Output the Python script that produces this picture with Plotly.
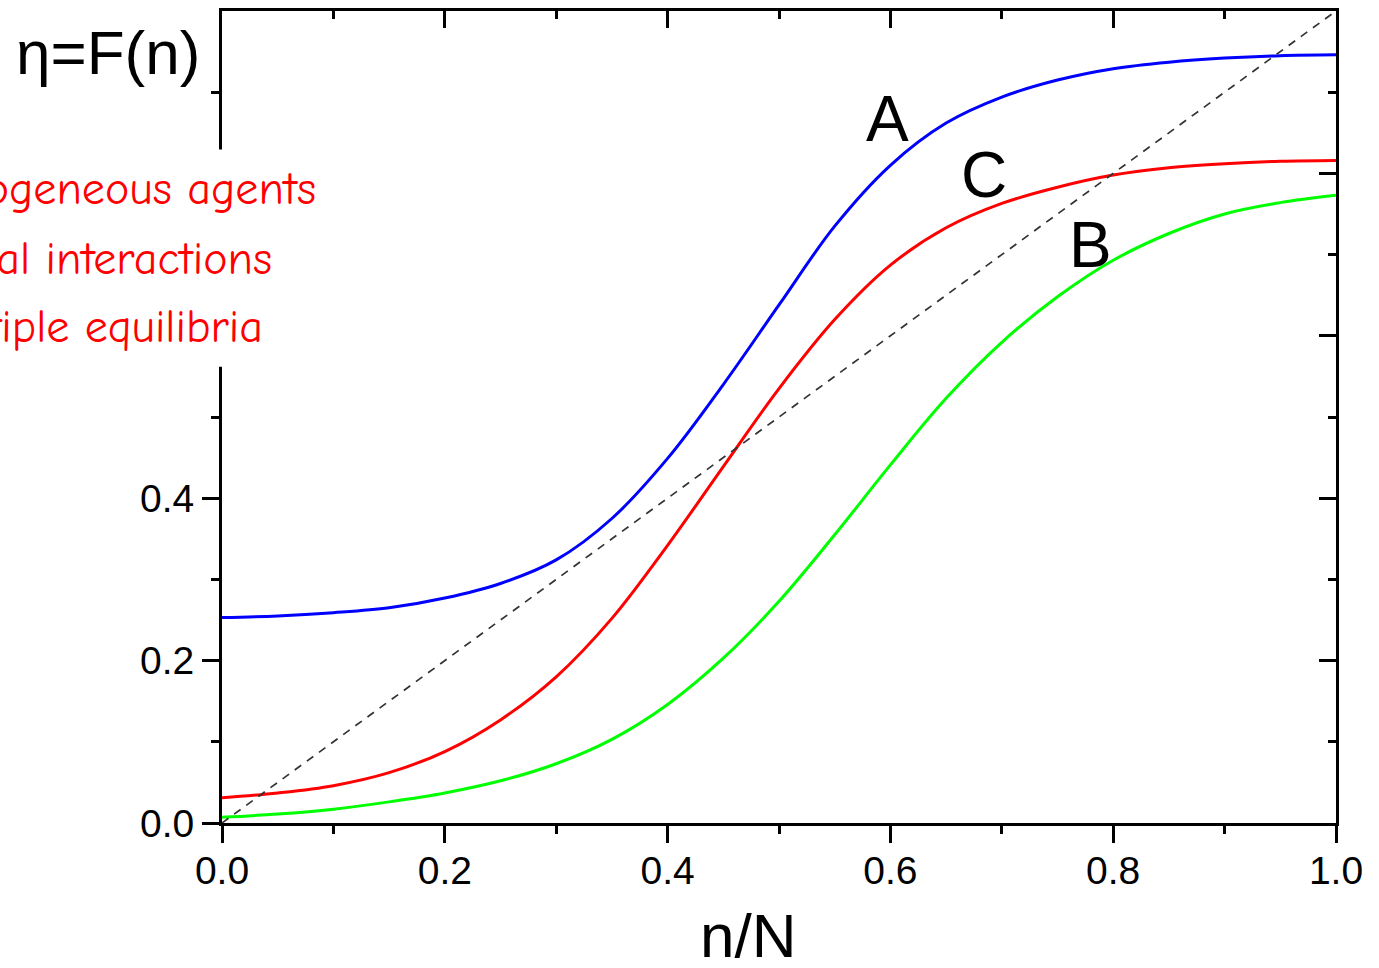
import plotly.graph_objects as go

# ---- data ----
n_frac = [0.00, 0.05, 0.10, 0.15, 0.20, 0.25, 0.30, 0.35, 0.40, 0.45, 0.50,
          0.55, 0.60, 0.65, 0.70, 0.75, 0.80, 0.85, 0.90, 0.95, 1.00]

eta_A = [0.253, 0.255, 0.259, 0.265, 0.277, 0.295, 0.324, 0.375, 0.449, 0.540, 0.638,
         0.735, 0.810, 0.862, 0.894, 0.915, 0.929, 0.937, 0.942, 0.945, 0.946]

eta_C = [0.031, 0.037, 0.046, 0.062, 0.088, 0.127, 0.180, 0.252, 0.342, 0.439, 0.535,
         0.620, 0.687, 0.733, 0.763, 0.783, 0.798, 0.807, 0.812, 0.815, 0.816]

eta_B = [0.007, 0.011, 0.017, 0.026, 0.037, 0.052, 0.073, 0.103, 0.146, 0.203, 0.273,
         0.355, 0.441, 0.523, 0.592, 0.648, 0.693, 0.726, 0.750, 0.764, 0.773]

diag_x = [0.0, 1.0]
diag_y = [0.0, 1.0]

curve_labels = ["A", "C", "B"]
label_x = [0.597, 0.684, 0.780]
label_y = [0.8675, 0.798, 0.712]

tick_vals = [0.0, 0.2, 0.4, 0.6, 0.8, 1.0]
x_tick_text = ["0.0", "0.2", "0.4", "0.6", "0.8", "1.0"]
y_tick_text = ["0.0", "0.2", "0.4", "", "", ""]   # upper labels are hidden in the reference

side_text = ["Heterogeneous agents", "Social interactions", "Multiple equilibria"]

FONT = "Liberation Sans, Arial, sans-serif"

fig = go.Figure()
fig.add_trace(go.Scatter(x=n_frac, y=eta_A, mode="lines",
                         line=dict(color="#0000FF", width=3, shape="spline"),
                         showlegend=False, hoverinfo="skip"))
fig.add_trace(go.Scatter(x=n_frac, y=eta_C, mode="lines",
                         line=dict(color="#FF0000", width=3, shape="spline"),
                         showlegend=False, hoverinfo="skip"))
fig.add_trace(go.Scatter(x=n_frac, y=eta_B, mode="lines",
                         line=dict(color="#00FF00", width=3, shape="spline"),
                         showlegend=False, hoverinfo="skip"))
fig.add_trace(go.Scatter(x=diag_x, y=diag_y, mode="lines", xaxis="x2", yaxis="y2",
                         line=dict(color="#333333", width=1.7, dash="8px,7px"),
                         showlegend=False, hoverinfo="skip"))

tickfont = dict(family=FONT, size=39, color="black")

def main_axis(ticktext):
    return dict(range=[0, 1], tickmode="array", tickvals=tick_vals, ticktext=ticktext,
                ticks="outside", ticklen=17, tickwidth=2.5, tickcolor="black",
                showline=True, linewidth=3, linecolor="black", mirror=True,
                showgrid=False, zeroline=False, tickfont=tickfont,
                minor=dict(ticks="outside", ticklen=8, tickwidth=2.5, tickcolor="black",
                           tickmode="linear", tick0=0, dtick=0.1, showgrid=False))

def mirror_axis():
    return dict(range=[0, 1], tickmode="array", tickvals=tick_vals,
                ticks="inside", ticklen=17, tickwidth=2.5, tickcolor="black",
                showticklabels=False, showline=False, showgrid=False, zeroline=False,
                minor=dict(ticks="inside", ticklen=8, tickwidth=2.5, tickcolor="black",
                           tickmode="linear", tick0=0, dtick=0.1, showgrid=False))

xa = main_axis(x_tick_text)
xa["ticklabelstandoff"] = -6
ya = main_axis(y_tick_text)
xa2 = mirror_axis(); xa2.update(overlaying="x", side="top", anchor="y2")
ya2 = mirror_axis(); ya2.update(overlaying="y", side="right", anchor="x2")

annotations = []
for t, lx, ly in zip(curve_labels, label_x, label_y):
    annotations.append(dict(x=lx, y=ly, xref="x", yref="y", text=t, showarrow=False,
                            font=dict(family=FONT, size=64, color="black"),
                            xanchor="center", yanchor="middle"))

annotations.append(dict(x=-0.1023, y=0.9485, xref="paper", yref="paper", text="η=F(n)",
                        showarrow=False, font=dict(family=FONT, size=62, color="black"),
                        xanchor="center", yanchor="middle"))
annotations.append(dict(x=0.4722, y=-0.138, xref="paper", yref="paper", text="n/N",
                        showarrow=False, font=dict(family=FONT, size=62, color="black"),
                        xanchor="center", yanchor="middle"))

red_right = [0.0862, 0.0467, 0.0386]
red_y = [0.780, 0.6945, 0.610]
for t, rx, ry in zip(side_text, red_right, red_y):
    annotations.append(dict(x=rx, y=ry, xref="paper", yref="paper", text=t,
                            showarrow=False,
                            font=dict(family="Comic Sans MS, Comic Neue, Open Sans, sans-serif",
                                      size=46, color="#FF0000"),
                            xanchor="right", yanchor="middle"))

shapes = [
    dict(type="rect", xref="paper", yref="paper", x0=-0.25, x1=0.097, y0=0.562, y1=0.8294,
         fillcolor="white", line=dict(width=0), layer="above"),
    dict(type="rect", xref="paper", yref="paper", x0=-0.25, x1=-0.0027, y0=0.91, y1=1.05,
         fillcolor="white", line=dict(width=0), layer="above"),
]

fig.update_layout(
    width=1379, height=968,
    margin=dict(l=222, r=43, t=8, b=145),
    paper_bgcolor="white", plot_bgcolor="white",
    showlegend=False,
    xaxis=xa, yaxis=ya, xaxis2=xa2, yaxis2=ya2,
    annotations=annotations, shapes=shapes,
)

fig.write_html("out.html")
